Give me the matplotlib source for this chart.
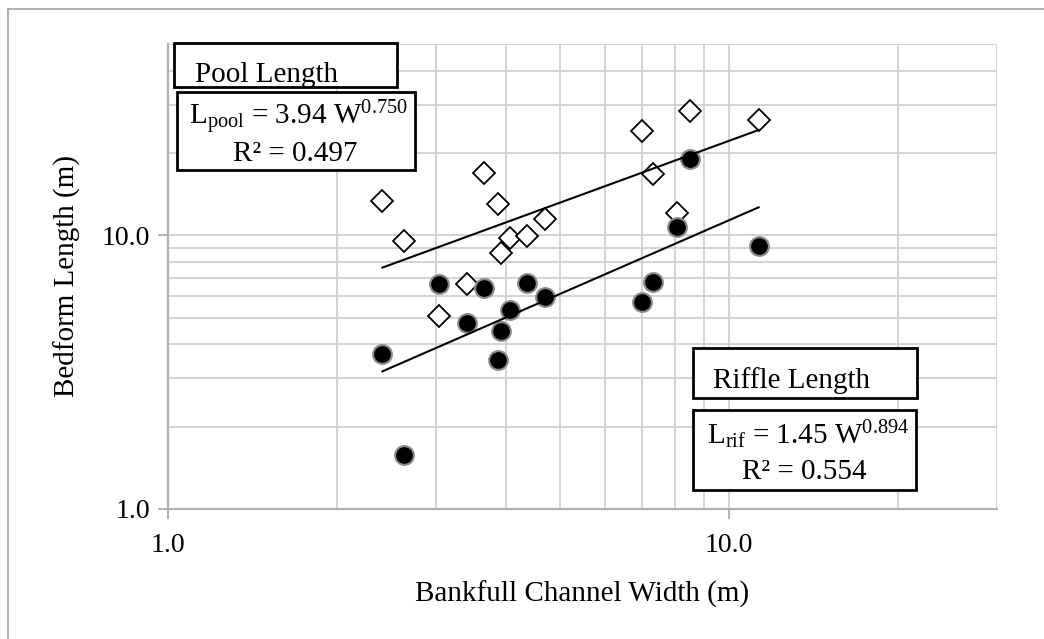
import numpy as np
import matplotlib
matplotlib.use('Agg')
import matplotlib.pyplot as plt
from matplotlib.ticker import FixedLocator, NullFormatter
from matplotlib.patches import Rectangle
from matplotlib.lines import Line2D

plt.rcParams['font.family'] = ['Liberation Serif', 'DejaVu Serif']
plt.rcParams['mathtext.fontset'] = 'custom'
plt.rcParams['mathtext.rm'] = 'Liberation Serif'
plt.rcParams['mathtext.it'] = 'Liberation Serif:italic'

# bankfull width (m) and the matching pool / riffle lengths (m)
width = [2.41, 2.63, 3.04, 3.41, 3.66, 3.88, 3.92, 4.07, 4.36, 4.69, 6.99, 7.30, 8.07, 8.52, 11.28]
pool_length = [13.3, 9.53, 5.09, 6.62, 16.85, 13.0, 8.64, 9.8, 9.97, 11.44, 24.05, 16.7, 12.03, 28.5, 26.4]
riffle_length = [3.68, 1.57, 6.62, 4.79, 6.44, 3.50, 4.48, 5.33, 6.71, 5.94, 5.69, 6.73, 10.75, 18.95, 9.14]

# power-law fits shown on the chart
pool_coef, pool_exp, pool_r2 = 3.94, 0.750, 0.497
rif_coef, rif_exp, rif_r2 = 1.45, 0.894, 0.554

tick_vals = [1, 10]
tick_labels = ['1.0', '10.0']

W, H = 1044, 639
fig = plt.figure(figsize=(W / 100, H / 100), dpi=100)


def fx(px):
    return px / W


def fy(py):
    return 1 - py / H


ax = fig.add_axes([fx(168), fy(509), (997 - 168) / W, (509 - 44) / H])
ax.set_xscale('log')
ax.set_yscale('log')
ax.set_xlim(1, 30)
ax.set_ylim(1, 50)

grid_color = '#d0d0d0'
ax.set_xticks(tick_vals)
ax.set_xticklabels(tick_labels)
ax.set_yticks(tick_vals)
ax.set_yticklabels(tick_labels)
ax.xaxis.set_minor_locator(FixedLocator([2, 3, 4, 5, 6, 7, 8, 9, 20, 30]))
ax.yaxis.set_minor_locator(FixedLocator([2, 3, 4, 5, 6, 7, 8, 9, 20, 30, 40, 50]))
ax.xaxis.set_minor_formatter(NullFormatter())
ax.yaxis.set_minor_formatter(NullFormatter())
ax.grid(True, which='both', color=grid_color, lw=1.3)
ax.set_axisbelow(True)
ax.tick_params(which='minor', length=0)
ax.tick_params(which='major', length=7, width=1.2, color='#a6a6a6', labelsize=20)
ax.tick_params(axis='x', pad=10)
ax.tick_params(axis='y', pad=6)
for s in ['top', 'right']:
    ax.spines[s].set_visible(False)
for s in ['left', 'bottom']:
    ax.spines[s].set_color('#b0b0b0')
    ax.spines[s].set_linewidth(1.6)

ax.plot(width, pool_length, 'D', ms=11, mfc='white', mec='black', mew=1.3, zorder=3)
ax.plot(width, riffle_length, 'o', ms=13.5, mfc='black', mec='#8a8a8a', mew=1.5, zorder=4)

xs = np.linspace(min(width), max(width), 50)
ax.plot(xs, pool_coef * xs ** pool_exp, color='black', lw=1.5, zorder=5)
ax.plot(xs, rif_coef * xs ** rif_exp, color='black', lw=1.5, zorder=5)

# outer chart border (only left and top are inside the image)
fig.add_artist(Line2D([fx(8), fx(8)], [0, fy(9)], color='#a6a6a6', lw=1.2))
fig.add_artist(Line2D([fx(8), 1], [fy(9), fy(9)], color='#a6a6a6', lw=1.2))

fig.text(fx(67), fy(276), 'Bedform Length (m)', rotation=90, ha='center', va='center', fontsize=21)
fig.text(fx(582), fy(602), 'Bankfull Channel Width (m)', ha='center', va='baseline', fontsize=21)


def box(x0, y0, x1, y1):
    fig.add_artist(Rectangle((fx(x0), fy(y1)), (x1 - x0) / W, (y1 - y0) / H,
                             transform=fig.transFigure, facecolor='white',
                             edgecolor='black', lw=2, zorder=10))


box(174, 43, 397, 87)
fig.text(fx(195), fy(82), 'Pool Length', ha='left', va='baseline', fontsize=21, zorder=11)
box(177, 92, 415, 170)
fig.text(fx(299), fy(125), r'L$_{\mathrm{pool}}$ = %.2f W$^{%.3f}$' % (pool_coef, pool_exp),
         ha='center', va='baseline', fontsize=21, zorder=11)
fig.text(fx(295), fy(161), 'R² = %.3f' % pool_r2, ha='center', va='baseline', fontsize=21, zorder=11)

box(693, 348, 917, 398)
fig.text(fx(713), fy(388), 'Riffle Length', ha='left', va='baseline', fontsize=21, zorder=11)
box(693, 410, 916, 490)
fig.text(fx(808), fy(444), r'L$_{\mathrm{rif}}$ = %.2f W$^{%.3f}$' % (rif_coef, rif_exp),
         ha='center', va='baseline', fontsize=21, zorder=11)
fig.text(fx(804), fy(479), 'R² = %.3f' % rif_r2, ha='center', va='baseline', fontsize=21, zorder=11)

fig.savefig('out.png', dpi=100)
